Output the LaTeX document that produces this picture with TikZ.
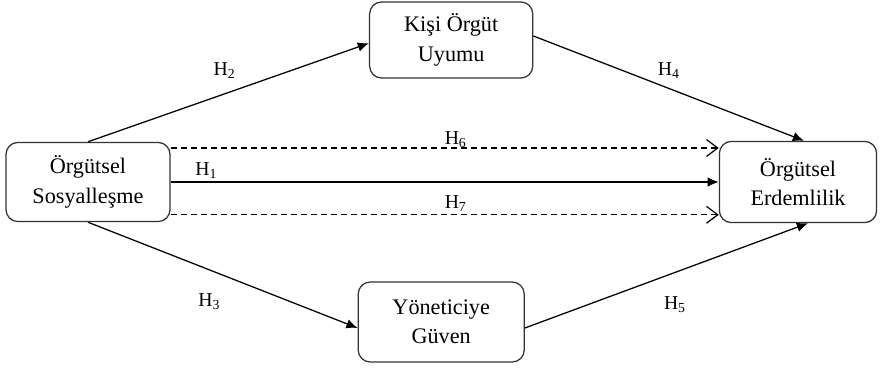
\documentclass[tikz,border=0pt]{standalone}
\usepackage{fontspec}
\setmainfont{Liberation Serif}
\usepackage{xcolor}
\usetikzlibrary{arrows.meta}

\begin{document}
\begin{tikzpicture}[
    box/.style={draw=black!80, line width=0.9pt, rectangle, rounded corners=0.3cm, align=center, font=\fontsize{15.8}{20.8}\selectfont},
    lbl/.style={inner sep=1pt, font=\fontsize{14}{16}\selectfont},
    solidarrow/.style={line width=0.9pt, -{Latex[length=0.28cm, width=0.24cm]}},
    dasharrow/.style={line width=0.9pt, dash pattern=on 0.15cm off 0.1cm, -{Straight Barb[length=0.28cm, width=0.42cm]}}]

    \useasboundingbox (0,0) rectangle (22,9.2);

    % Define nodes
    \node (sos) [box, minimum width=4.1cm, minimum height=1.98cm] at (2.2,4.65) {Örgütsel\\ Sosyalleşme};
    \node (uyum) [box, minimum width=4.08cm, minimum height=1.9cm] at (11.28,8.2) {Kişi Örgüt\\ Uyumu};
    \node (guven) [box, minimum width=4.15cm, minimum height=2.0cm] at (11.03,1.15) {Yöneticiye\\ Güven};
    \node (erdem) [box, minimum width=3.93cm, minimum height=2.03cm] at (19.95,4.65) {Örgütsel\\ Erdemlilik};

    % Define connections
    \draw[solidarrow] (sos.north) -- ([yshift=-0.08cm]uyum.west) node[lbl, midway, above=0.3cm, xshift=-0.1cm] {H\textsubscript{2}};
    \draw[solidarrow] ([yshift=0.1cm]uyum.east) -- ([xshift=0.15cm]erdem.north) node[lbl, midway, above=0.2cm] {H\textsubscript{4}};
    \draw[solidarrow] (sos.south) -- ([yshift=-0.15cm]guven.west) node[lbl, pos=0.45, below=0.55cm] {H\textsubscript{3}};
    \draw[solidarrow] ([yshift=-0.15cm]guven.east) -- ([xshift=0.25cm]erdem.south) node[lbl, pos=0.53, below=0.55cm] {H\textsubscript{5}};
    \draw[dasharrow] ([yshift=0.85cm]sos.east) -- ([yshift=0.85cm]erdem.west) node[lbl, pos=0.52, above=-1pt] {H\textsubscript{6}};
    \draw[solidarrow] (sos.east) -- (erdem.west) node[lbl, pos=0.065, above=1pt] {H\textsubscript{1}};
    \draw[dasharrow] ([yshift=-0.82cm]sos.east) -- ([yshift=-0.82cm]erdem.west) node[lbl, pos=0.52, above=1pt] {H\textsubscript{7}};

\end{tikzpicture}
\end{document}
